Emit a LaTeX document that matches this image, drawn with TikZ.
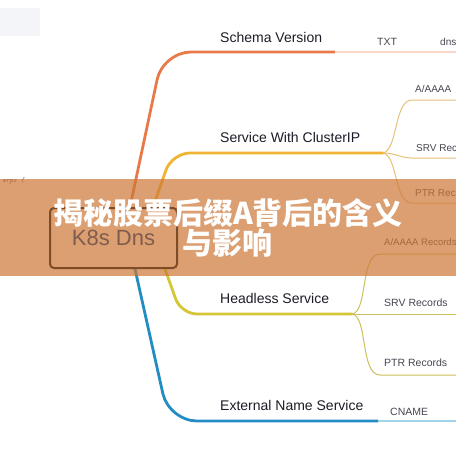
\documentclass[tikz,border=0pt]{standalone}
\usepackage{fontspec}
\setmainfont{Liberation Sans}
\newfontfamily\cjk{Noto Sans CJK SC}
\usetikzlibrary{calc}
\definecolor{cOr}{RGB}{232,122,74}
\definecolor{cOrL}{RGB}{246,214,198}
\definecolor{cYe}{RGB}{240,180,52}
\definecolor{cHe}{RGB}{212,198,52}
\definecolor{cBl}{RGB}{35,140,195}
\definecolor{cBlL}{RGB}{160,212,235}
\definecolor{cSubA}{RGB}{232,192,122}
\definecolor{cSubB}{RGB}{206,192,92}
\definecolor{cBand}{RGB}{205,119,55}
\definecolor{cTxt}{RGB}{28,28,40}
\definecolor{cSub}{RGB}{70,70,82}
\definecolor{cBox}{RGB}{128,76,38}
\definecolor{cBoxT}{RGB}{128,92,78}
\definecolor{cFaint}{RGB}{244,245,248}
\pgfdeclarelayer{lines}
\pgfdeclarelayer{band}
\pgfsetlayers{lines,band,main}
\tikzset{
  mainlbl/.style={anchor=west, inner sep=0pt, text=cTxt, font=\fontsize{14}{16}\selectfont},
  sublbl/.style={anchor=west, inner sep=0pt, text=cSub, font=\fontsize{10.5}{12}\selectfont},
  edgelbl/.style={anchor=west, inner sep=0pt, text=cSub, font=\fontsize{10}{12}\selectfont},
  mainline/.style={line width=2.8pt, line cap=round},
  subline/.style={line width=1pt},
  k8sbox/.style={draw=cBox, line width=2pt, rounded corners=4pt, minimum width=127pt, minimum height=60pt, inner sep=0pt, text=cBoxT, font=\fontsize{22}{24}\selectfont},
  titletext/.style={align=center, text=white, inner sep=0pt, font=\cjk\bfseries\fontsize{30}{30}\selectfont}
}
\begin{document}
\begin{tikzpicture}[x=1pt,y=-1pt]
\useasboundingbox (0,0) rectangle (456,456);
\clip (0,0) rectangle (456,456);
\node[k8sbox] (k8s) at (113.5,238) {K8s Dns};
\node[titletext] (title) at (228,228.5) {揭秘股票后缀A背后的含义\\与影响};
\begin{pgfonlayer}{lines}
  \fill[white] (0,0) rectangle (456,456);
  \fill[cFaint] (0,8) rectangle (40,36);
  \node[anchor=west, inner sep=0pt, text=cSub, font=\ttfamily\itshape\fontsize{7}{8}\selectfont] (arps) at (2,181) {arps \{};
  % labels
  \node[mainlbl] (sv) at (220,37) {Schema Version};
  \node[sublbl] (txt) at (377,41.5) {TXT};
  \node[edgelbl] (dns) at (440,41.5) {dns};
  \node[mainlbl] (cip) at (220,137) {Service With ClusterIP};
  \node[edgelbl] (ca) at (415,89) {A/AAAA};
  \node[edgelbl] (cs) at (416,148) {SRV Rec};
  \node[edgelbl] (cp) at (415,193) {PTR Rec};
  \node[mainlbl] (hl) at (220,298) {Headless Service};
  \node[edgelbl, font=\fontsize{9.5}{11}\selectfont] (ha) at (384,242) {A/AAAA Records};
  \node[sublbl] (hs) at (384,303) {SRV Records};
  \node[sublbl] (hp) at (384,363) {PTR Records};
  \node[mainlbl] (ext) at (220,405) {External Name Service};
  \node[sublbl] (cn) at (390,411.5) {CNAME};
  % branch points
  \coordinate (cb) at (383,153);
  \coordinate (hb) at (352,314);
  \coordinate (svEnd) at (335,52);
  \coordinate (exEnd) at (378,421);
  % main branches
  \draw[mainline, cOr, rounded corners=28pt] ($(k8s.north)+(16.5,0)$) -- (163,52) -- (svEnd);
  \draw[line width=1.2pt, cOrL] (svEnd) -- (460,52);
  \draw[mainline, cYe, rounded corners=18pt] ($(k8s.north)+(39.5,0)$) -- (172,153) -- (cb);
  \draw[mainline, cHe, rounded corners=16pt] ($(k8s.south)+(51.5,0)$) -- (181,314) -- (hb);
  \draw[mainline, cBl, rounded corners=28pt] ($(k8s.south)+(21.5,0)$) -- (169,421) -- (exEnd);
  \draw[line width=1.6pt, cBlL] (exEnd) -- (460,421);
  % ClusterIP sub-branches
  \draw[subline, cSubA] (cb) .. controls (398,150) and (394,100) .. (412,100) -- (460,100);
  \draw[subline, cSubA] (cb) .. controls (396,153) and (400,158) .. (412,158) -- (460,158);
  \draw[subline, cSubA] (cb) .. controls (398,156) and (394,203) .. (412,203) -- (460,203);
  % Headless sub-branches
  \draw[subline, cSubB] (hb) .. controls (368,312) and (360,254) .. (380,254) -- (460,254);
  \draw[subline, cSubB] (hb) -- (460,314);
  \draw[subline, cSubB] (hb) .. controls (368,316) and (360,375) .. (380,375) -- (460,375);
\end{pgfonlayer}
\begin{pgfonlayer}{band}
  \fill[cBand, opacity=0.7] (0,179) rectangle (456,276);
\end{pgfonlayer}
\end{tikzpicture}
\end{document}
